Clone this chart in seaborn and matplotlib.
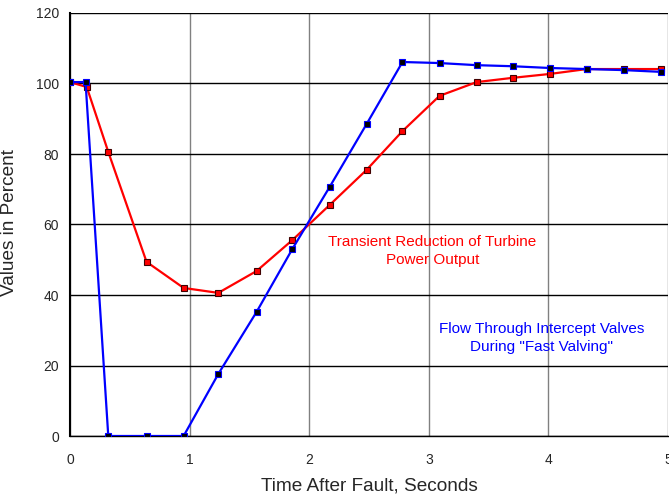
import matplotlib
matplotlib.use("Agg")
import matplotlib.pyplot as plt
import seaborn as sns
import pandas as pd

time_red = [0.00, 0.14, 0.32, 0.64, 0.95, 1.24, 1.56, 1.86, 2.17, 2.48, 2.78, 3.09, 3.40, 3.70, 4.01, 4.32, 4.63, 4.94]
power_output = [100.4, 99.0, 80.6, 49.4, 42.0, 40.6, 46.8, 55.6, 65.5, 75.5, 86.5, 96.5, 100.4, 101.6, 102.7, 104.1, 104.1, 104.1]
time_blue = [0.00, 0.13, 0.32, 0.64, 0.95, 1.24, 1.56, 1.86, 2.17, 2.48, 2.78, 3.09, 3.40, 3.70, 4.01, 4.32, 4.63, 4.94]
intercept_flow = [100.4, 100.4, 0.0, 0.0, 0.0, 17.6, 35.2, 53.1, 70.6, 88.5, 106.1, 105.8, 105.2, 104.9, 104.4, 104.1, 103.8, 103.3]

sns.set_style("white")
plt.rcParams['font.family'] = ['Liberation Sans', 'DejaVu Sans']

fig = plt.figure(figsize=(6.69, 4.94), dpi=100)
ax = fig.add_axes([70/669, 1 - 436/494, 598/669, 423/494])

df_red = pd.DataFrame({"t": time_red, "v": power_output})
df_blue = pd.DataFrame({"t": time_blue, "v": intercept_flow})

sns.lineplot(data=df_red, x="t", y="v", ax=ax, color="#ff0000", linewidth=1.6,
             marker="s", markersize=5, markerfacecolor="#ff0000",
             markeredgecolor="#400000", markeredgewidth=0.8, zorder=3)
sns.lineplot(data=df_blue, x="t", y="v", ax=ax, color="#0000ff", linewidth=1.6,
             marker="s", markersize=5, markerfacecolor="#000000",
             markeredgecolor="#0000ff", markeredgewidth=0.8, zorder=4)

ax.set_xlim(0, 5)
ax.set_ylim(0, 120)
ax.set_xticks([0, 1, 2, 3, 4, 5])
ax.set_yticks([0, 20, 40, 60, 80, 100, 120])
ax.set_axisbelow(True)
ax.yaxis.grid(True, color="black", linewidth=1.0)
ax.xaxis.grid(True, color="#808080", linewidth=1.0)

for s in ["top", "right"]:
    ax.spines[s].set_visible(False)
ax.spines["left"].set_color("black")
ax.spines["left"].set_linewidth(1.5)
ax.spines["bottom"].set_color("black")
ax.spines["bottom"].set_linewidth(1.0)

ax.tick_params(axis="y", direction="out", length=2, width=1, color="black", labelsize=10, pad=6)
ax.tick_params(axis="x", direction="out", length=0, labelsize=10, pad=12)
ax.set_xlabel("Time After Fault, Seconds", fontsize=13.7, labelpad=8)
ax.set_ylabel("Values in Percent", fontsize=13.7)
ax.yaxis.set_label_coords(-0.087, 0.505)

ax.text(3.03, 52.5, "Transient Reduction of Turbine\nPower Output", color="#ff0000",
        fontsize=11, ha="center", va="center", linespacing=1.3)
ax.text(3.94, 27.8, "Flow Through Intercept Valves\nDuring \"Fast Valving\"", color="#0000ff",
        fontsize=11, ha="center", va="center", linespacing=1.3)

fig.savefig("out.png", dpi=100)
